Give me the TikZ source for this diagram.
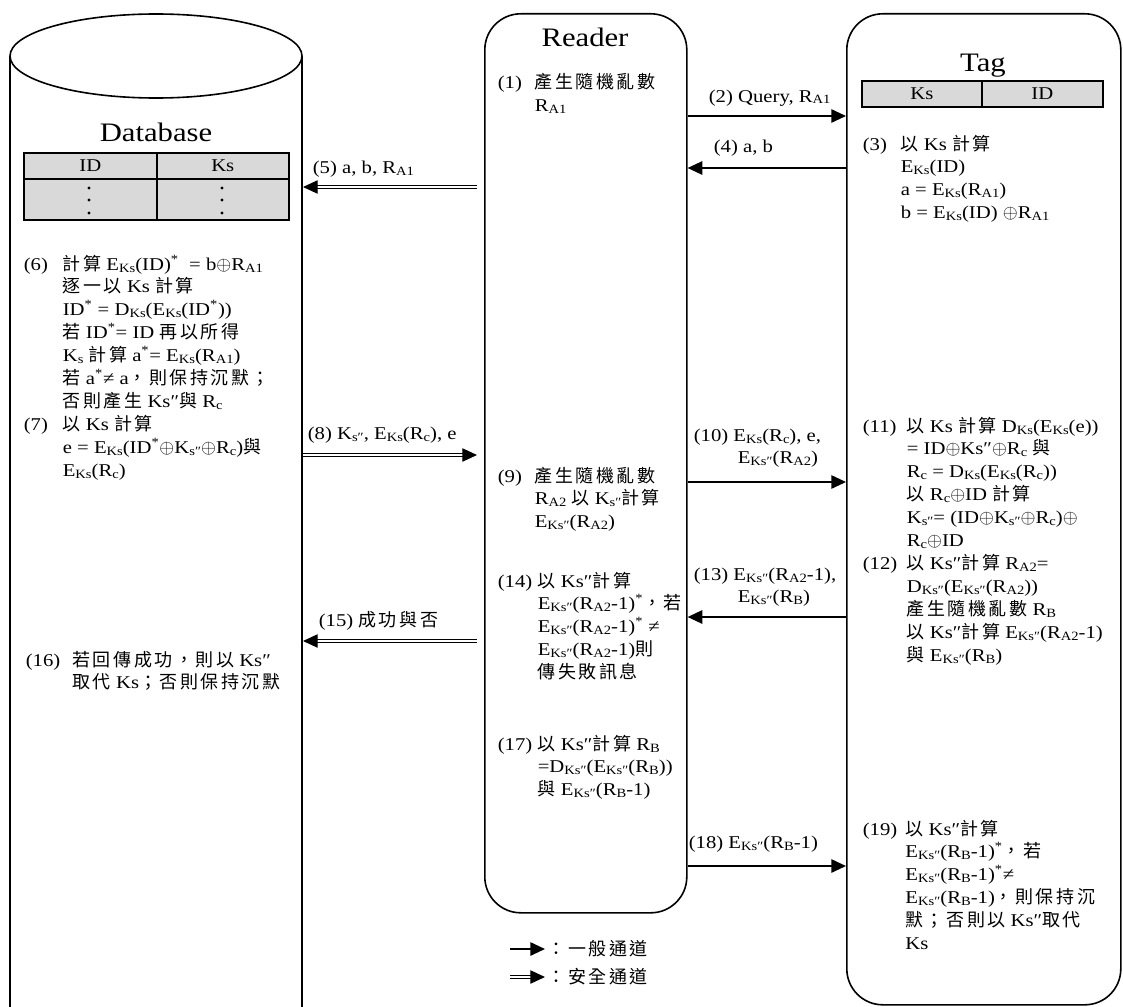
\documentclass[tikz,border=0pt]{standalone}
\usepackage{fontspec}
\setmainfont{Liberation Serif}[FakeStretch=1.15]
\newfontfamily\cjk{Noto Sans CJK TC}[LetterSpace=14]
\usetikzlibrary{arrows.meta}

\definecolor{cellgray}{RGB}{217,217,217}

% text helpers
\newcommand\cj[1]{{\cjk #1}}
\newcommand\subt[1]{\raisebox{-1.5pt}{\fontsize{9.5pt}{9.5pt}\selectfont #1}}
\newcommand\st{\textsuperscript{*}}
\newcommand\EK{E\subt{Ks}}
\newcommand\EKK{E\subt{Ks″}}
\newcommand\DK{D\subt{Ks}}
\newcommand\DKK{D\subt{Ks″}}
\newcommand\xor{\ensuremath{\oplus}}
\newcommand\Rs[1]{R\subt{#1}}
\newcommand\bodyfont{\fontsize{13.5pt}{17.2pt}\selectfont}
\newcommand\titlefont{\fontsize{20pt}{23pt}\selectfont}

\begin{document}
\begin{tikzpicture}[x=0.75pt,y=-0.75pt,
  line width=1.2pt,
  body/.style={anchor=base west, inner sep=0pt, font=\bodyfont},
  title/.style={anchor=base, inner sep=0pt, font=\titlefont},
  party/.style={draw, line width=1.2pt, rounded corners=27pt, anchor=north west, inner sep=0pt},
  onearrow/.style={line width=1.3pt, -{Triangle[length=11pt,width=10pt]}},
  twoarrow/.style={line width=0.8pt, double, double distance=1.8pt, -{Triangle[length=11pt,width=10pt]}},
  cell/.style={draw, fill=cellgray, line width=1.2pt, anchor=north west, inner sep=0pt, font=\bodyfont}
]
\useasboundingbox (0,0) rectangle (1123,1006);
\clip (0,0) rectangle (1123,1006);

% ---------------- Database (cylinder) ----------------
\draw (10,56) -- (10,1012);
\draw (302,56) -- (302,1012);
\draw (156,56) ellipse [x radius=109.5pt, y radius=31.5pt];
\coordinate (dbside) at (303,500);
\coordinate (rdgap) at (477,500);

\node[title] (dbtitle) at (156,141) {Database};
\node[cell, minimum width=99.75pt, minimum height=19.5pt] (dbh1) at (23,152) {ID};
\node[cell, minimum width=99pt, minimum height=19.5pt] (dbh2) at (156,152) {Ks};
\node[cell, minimum width=99.75pt, minimum height=30.75pt] (dbr1) at (23,178) {};
\node[cell, minimum width=99pt, minimum height=30.75pt] (dbr2) at (156,178) {};
\foreach \yy in {188,200,213} {
  \fill (89,\yy) circle [radius=1.2pt];
  \fill (222,\yy) circle [radius=1.2pt];
}

\node[body] (s6) at (23,270) {\begin{tabular}[t]{@{}l@{}l@{}}
\makebox[29.25pt][l]{(6)} & \cj{計算} \EK(ID)\st\ \ = b\xor\Rs{A1}\\
& \cj{逐一以} Ks \cj{計算}\\
& ID\st\ = \DK(\EK(ID\st))\\
& \cj{若} ID\st= ID \cj{再以所得}\\
& K\subt{s} \cj{計算} a\st= \EK(\Rs{A1})\\
& \cj{若} a\st≠ a\cj{，則保持沉默；}\\
& \cj{否則產生} Ks″\cj{與} \Rs{c}
\end{tabular}};

\node[body] (s7) at (23,430.5) {\begin{tabular}[t]{@{}l@{}l@{}}
\makebox[29.25pt][l]{(7)} & \cj{以} Ks \cj{計算}\\
& e = \EK(ID\st\xor K\subt{s″}\xor\Rs{c})\cj{與}\\
& \EK(\Rs{c})
\end{tabular}};

\node[body] (s16) at (25,666) {\begin{tabular}[t]{@{}l@{}l@{}}
\makebox[35pt][l]{(16)} & \cj{若回傳成功，則以} Ks″\\
& \cj{取代} Ks\cj{；否則保持沉默}
\end{tabular}};

% ---------------- Reader ----------------
\node[party, minimum width=151.5pt, minimum height=674.25pt] (reader) at (484,13) {};
\node[title] (rdtitle) at (585,47) {Reader};

\node[body] (s1) at (497,89) {\begin{tabular}[t]{@{}l@{}l@{}}
\makebox[27.75pt][l]{(1)} & \cj{產生隨機亂數}\\
& \Rs{A1}
\end{tabular}};

\node[body] (s9) at (497,482) {\begin{tabular}[t]{@{}l@{}l@{}}
\makebox[27.75pt][l]{(9)} & \cj{產生隨機亂數}\\
& \Rs{A2} \cj{以} K\subt{s″}\cj{計算}\\
& \EKK(\Rs{A2})
\end{tabular}};

\node[body] (s14) at (497,587) {\begin{tabular}[t]{@{}l@{}l@{}}
\makebox[30pt][l]{(14)} & \cj{以} Ks″\cj{計算}\\
& \EKK(\Rs{A2}-1)\st\cj{，若}\\
& \EKK(\Rs{A2}-1)\st\ ≠\\
& \EKK(\Rs{A2}-1)\cj{則}\\
& \cj{傳失敗訊息}
\end{tabular}};

\node[body] (s17) at (497,750) {\begin{tabular}[t]{@{}l@{}l@{}}
\makebox[30pt][l]{(17)} & \cj{以} Ks″\cj{計算} \Rs{B}\\
& =\DKK(\EKK(\Rs{B}))\\
& \cj{與} \EKK(\Rs{B}-1)
\end{tabular}};

% ---------------- Tag ----------------
\node[party, minimum width=205.5pt, minimum height=743.25pt] (tag) at (846,13) {};
\node[title] (tgtitle) at (983,72) {Tag};
\node[cell, minimum width=90pt, minimum height=19.5pt] (tgh1) at (861,80) {Ks};
\node[cell, minimum width=90.75pt, minimum height=19.5pt] (tgh2) at (981,80) {ID};

\node[body] (s3) at (862,150) {\begin{tabular}[t]{@{}l@{}l@{}}
\makebox[28.5pt][l]{(3)} & \cj{以} Ks \cj{計算}\\
& \EK(ID)\\
& a = \EK(\Rs{A1})\\
& b = \EK(ID) \xor\Rs{A1}
\end{tabular}};

\node[body] (s11) at (862,432) {\begin{tabular}[t]{@{}l@{}l@{}}
\makebox[33pt][l]{(11)} & \cj{以} Ks \cj{計算} \DK(\EK(e))\\
& = ID\xor Ks″\xor\Rs{c} \cj{與}\\
& \Rs{c} = \DK(\EK(\Rs{c}))\\
& \cj{以} \Rs{c}\xor ID \cj{計算}\\
& K\subt{s″}= (ID\xor K\subt{s″}\xor\Rs{c})\xor\\
& \Rs{c}\xor ID
\end{tabular}};

\node[body] (s12) at (862,569.6) {\begin{tabular}[t]{@{}l@{}l@{}}
\makebox[33pt][l]{(12)} & \cj{以} Ks″\cj{計算} \Rs{A2}=\\
& \DKK(\EKK(\Rs{A2}))\\
& \cj{產生隨機亂數} \Rs{B}\\
& \cj{以} Ks″\cj{計算} \EKK(\Rs{A2}-1)\\
& \cj{與} \EKK(\Rs{B})
\end{tabular}};

\node[body] (s19) at (862,835) {\begin{tabular}[t]{@{}l@{}l@{}}
\makebox[32pt][l]{(19)} & \cj{以} Ks″\cj{計算}\\
& \EKK(\Rs{B}-1)\st\cj{，若}\\
& \EKK(\Rs{B}-1)\st≠\\
& \EKK(\Rs{B}-1)\cj{，則保持沉}\\
& \cj{默；否則以} Ks″\cj{取代}\\
& Ks
\end{tabular}};

% ---------------- Messages ----------------
\coordinate (y2) at (0,116);
\coordinate (y4) at (0,168);
\coordinate (y5) at (0,187);
\coordinate (y8) at (0,455);
\coordinate (y10) at (0,482);
\coordinate (y13) at (0,617);
\coordinate (y15) at (0,641);
\coordinate (y18) at (0,866);

\draw[onearrow] (reader.east |- y2) -- (tag.west |- y2);
\draw[onearrow] (tag.west |- y4) -- (reader.east |- y4);
\draw[twoarrow] (rdgap |- y5) -- (dbside |- y5);
\draw[twoarrow] (dbside |- y8) -- (rdgap |- y8);
\draw[onearrow] (reader.east |- y10) -- (tag.west |- y10);
\draw[onearrow] (tag.west |- y13) -- (reader.east |- y13);
\draw[twoarrow] (rdgap |- y15) -- (dbside |- y15);
\draw[onearrow] (reader.east |- y18) -- (tag.west |- y18);

\node[body] (l2) at (708,102) {(2) Query, \Rs{A1}};
\node[body] (l4) at (713,152) {(4) a, b};
\node[body] (l5) at (312,173) {(5) a, b, \Rs{A1}};
\node[body] (l8) at (307,439) {(8) K\subt{s″}, \EK(\Rs{c}), e};
\node[body] (l10) at (693,441) {\begin{tabular}[t]{@{}l@{}}
(10) \EK(\Rs{c}), e,\\
\hspace*{33pt}\EKK(\Rs{A2})
\end{tabular}};
\node[body] (l13) at (693,580) {\begin{tabular}[t]{@{}l@{}}
(13) \EKK(\Rs{A2}-1),\\
\hspace*{33pt}\EKK(\Rs{B})
\end{tabular}};
\node[body] (l15) at (318,626) {(15) \cj{成功與否}};
\node[body] (l18) at (688,848) {(18) \EKK(\Rs{B}-1)};

% ---------------- Legend ----------------
\coordinate (lg1a) at (510,949);
\coordinate (lg1b) at (545,949);
\coordinate (lg2a) at (510,977);
\coordinate (lg2b) at (545,977);
\draw[onearrow] (lg1a) -- (lg1b);
\draw[twoarrow] (lg2a) -- (lg2b);
\node[body] (lg1) at (547,955) {\cj{：一般通道}};
\node[body] (lg2) at (547,983) {\cj{：安全通道}};
\end{tikzpicture}
\end{document}
